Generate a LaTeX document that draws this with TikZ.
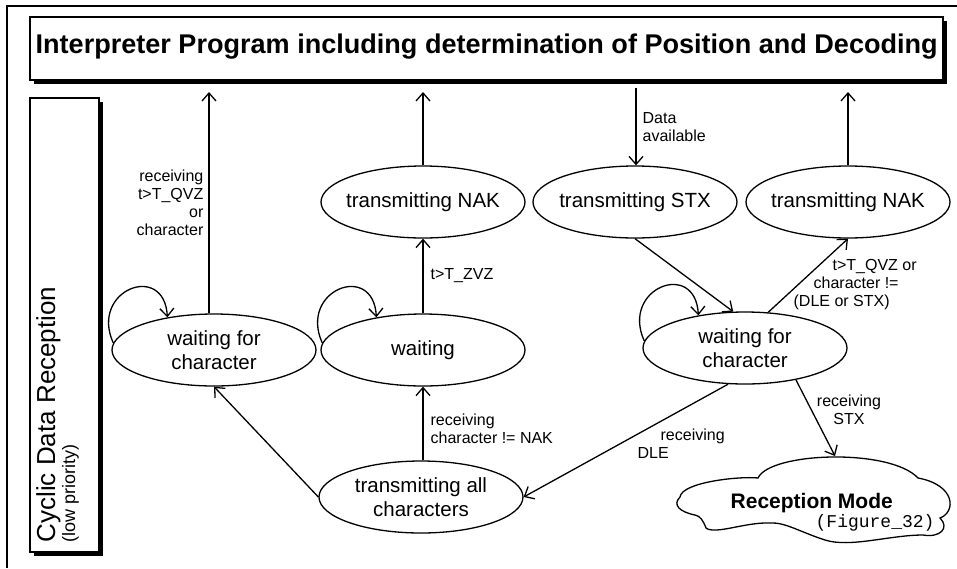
\documentclass[tikz,border=0pt]{standalone}
\usepackage{fontspec}
\usepackage{graphicx}
\setmainfont{Liberation Sans}
\setmonofont{Liberation Mono}
\usetikzlibrary{shapes.geometric,arrows.meta,calc,shadows}
\begin{document}
\begin{tikzpicture}[x=1pt,y=-1pt,
  line width=1.3pt,
  state/.style={ellipse, draw, minimum width=204pt, minimum height=72pt, inner sep=0pt, fill=white},
  stext/.style={font=\fontsize{20.5pt}{24pt}\selectfont, align=center, inner sep=0pt},
  lbl/.style={font=\fontsize{16pt}{18pt}\selectfont, inner sep=0pt},
  arr/.style={-{Straight Barb[length=8pt,width=14pt]}},
  sbox/.style={draw, fill=white, inner sep=0pt,
    general shadow={fill=black, shadow xshift=3.5pt, shadow yshift=-3.5pt}}
]
\useasboundingbox (0,0) rectangle (957,568);
\draw (7,568) -- (7,6) -- (957,6);

% title
\node[sbox, minimum width=913pt, minimum height=63pt] (title) at (486.5,48.5) {};
\node[anchor=base west, inner sep=0pt] (titletext) at (35,53)
  {\resizebox{902pt}{!}{\bfseries\fontsize{25pt}{28pt}\selectfont Interpreter Program including determination of Position and Decoding}};

% side box
\node[sbox, minimum width=69pt, minimum height=454pt] (side) at (64.5,325) {};
\node[rotate=90, anchor=base west, inner sep=0pt, font=\fontsize{26pt}{28pt}\selectfont] (sidetext) at (55,543) {Cyclic Data Reception};
\node[rotate=90, anchor=base west, inner sep=0pt, font=\fontsize{18pt}{20pt}\selectfont] (sidesub) at (75,543) {(low priority)};

% states
\node[state, label={[stext]center:{waiting for\\character}}] (wfcL) at (214,350) {};
\node[state, label={[stext]center:waiting}] (wait) at (423,350) {};
\node[state, label={[stext]center:transmitting NAK}] (nakM) at (423,202) {};
\node[state, label={[stext]center:transmitting STX}] (stx) at (635,202) {};
\node[state, label={[stext]center:transmitting NAK}] (nakR) at (848,202) {};
\node[state, label={[stext]center:{waiting for\\character}}] (wfcR) at (745,348) {};
\node[state, label={[stext]center:{transmitting all\\characters}}] (txall) at (421,497) {};

% cloud
\draw (680,497) .. controls (682,482) and (740,476) .. (758,478)
  .. controls (770,452) and (890,448) .. (918,478)
  .. controls (956,485) and (956,512) .. (940,518)
  .. controls (950,528) and (940,538) .. (923,535)
  .. controls (890,535) and (850,548) .. (825,540)
  .. controls (800,532) and (785,522) .. (770,523)
  .. controls (745,522) and (715,535) .. (706,528)
  .. controls (703,520) and (700,516) .. (695,515)
  .. controls (680,512) and (672,505) .. (680,497) -- cycle;
\node[anchor=base west, inner sep=0pt, font=\bfseries\fontsize{21pt}{24pt}\selectfont] (rm) at (730,508) {Reception Mode};
\node[anchor=base west, inner sep=0pt, font=\ttfamily\fontsize{18pt}{20pt}\selectfont] (fig) at (815,527) {(Figure\_32)};

% free ends
\coordinate (up1) at (209,92);
\coordinate (up2) at (423,92);
\coordinate (down1) at (636,88);
\coordinate (up3) at (848,92);
\coordinate (cloudtop) at (835,456);

% connectors
\draw[arr] (wfcL.north -| up1) -- (up1);
\draw[arr] (wait.north) -- (nakM.south);
\draw[arr] (nakM.north) -- (up2);
\draw[arr] (down1) -- (down1 |- stx.north);
\draw[arr] (stx.south) -- (wfcR.108);
\draw[arr] (wfcR.57) -- (nakR.south);
\draw[arr] (nakR.north) -- (up3);
\draw[arr] (wfcR.245) -- (txall.east);
\draw[arr] (wfcR.328) -- (cloudtop);
\draw[arr] (txall.north -| wait.south) -- (wait.south);
\draw[arr] (txall.west) -- (wfcL.south);

% self loops
\draw[arr] (wfcL.176) .. controls ($(wfcL.176)+(-24,-53)$) and ($(wfcL.145)+(-3,-56)$) .. (wfcL.145);
\draw[arr] (wait.176) .. controls ($(wait.176)+(-24,-53)$) and ($(wait.145)+(-3,-56)$) .. (wait.145);
\draw[arr] (wfcR.176) .. controls ($(wfcR.176)+(-24,-53)$) and ($(wfcR.145)+(-3,-56)$) .. (wfcR.145);

% labels
\node[lbl, anchor=east, align=right] (l1) at (204,203) {receiving\\t>T\_QVZ\\or\\character};
\node[lbl, anchor=west] (l2) at (430,276) {t>T\_ZVZ};
\node[lbl, anchor=west, align=left] (l3) at (642,127) {Data\\available};
\node[lbl, anchor=west, align=left] (l4) at (793,285) {\hspace*{39pt}t>T\_QVZ or\\\hspace*{20pt}character !=\\(DLE or STX)};
\node[lbl, anchor=west, align=left] (l5) at (430,429) {receiving\\character != NAK};
\node[lbl, anchor=west, align=left] (l6) at (637,444) {\hspace*{23pt}receiving\\DLE};
\node[lbl, align=center] (l7) at (849,410) {receiving\\STX};
\end{tikzpicture}
\end{document}
